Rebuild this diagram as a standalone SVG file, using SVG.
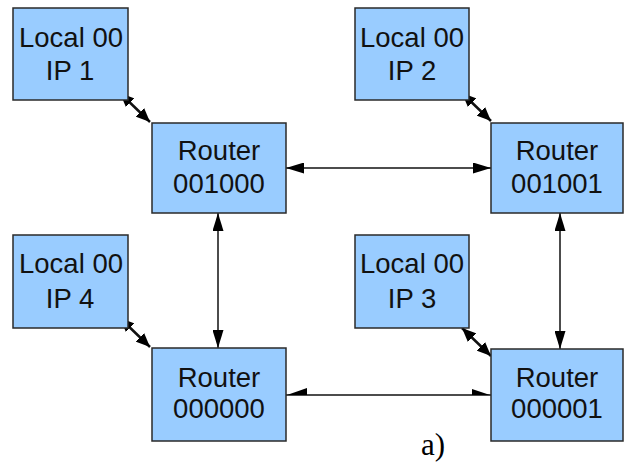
<svg xmlns="http://www.w3.org/2000/svg" width="626" height="462" viewBox="0 0 626 462">
  <defs>
    <style>
      .box { fill: #99ccff; stroke: #2a2a2a; stroke-width: 1.5; }
      .lbl { font-family: "Liberation Sans", Arial, sans-serif; font-size: 27.5px; fill: #111; text-anchor: middle; }
      .con { stroke: #111; stroke-width: 1.5; fill: none; }
      .dia { stroke: #111; stroke-width: 2.5; fill: none; }
      .cap { font-family: "Liberation Serif", "Times New Roman", serif; font-size: 31px; fill: #000; }
    </style>
    <marker id="ah" markerUnits="userSpaceOnUse" markerWidth="18" markerHeight="11" refX="18" refY="5.5" orient="auto-start-reverse">
      <path d="M0,0 L18,5.5 L0,11 z" fill="#000"/>
    </marker>
    <marker id="as" markerUnits="userSpaceOnUse" markerWidth="14" markerHeight="12" refX="14" refY="6" orient="auto-start-reverse">
      <path d="M0,0 L14,6 L0,12 z" fill="#000"/>
    </marker>
  </defs>
  <rect width="626" height="462" fill="#fff"/>

  <g id="connectors">
    <line class="con" x1="286" y1="168" x2="491" y2="168" marker-start="url(#ah)" marker-end="url(#ah)"/>
    <line class="con" x1="218" y1="213" x2="218" y2="348" marker-start="url(#ah)" marker-end="url(#ah)"/>
    <line class="con" x1="560" y1="213" x2="560" y2="349" marker-start="url(#ah)" marker-end="url(#ah)"/>
    <line class="con" x1="286" y1="395" x2="491" y2="395"/>
    <path d="M287,395 L307,388 L307,395 z" fill="#000"/>
    <path d="M490,395 L472,389 L472,395 z" fill="#000"/>
    <line class="dia" x1="120" y1="93" x2="150" y2="122" marker-start="url(#as)" marker-end="url(#as)"/>
    <line class="dia" x1="462" y1="93" x2="491" y2="121" marker-start="url(#as)" marker-end="url(#as)"/>
    <line class="dia" x1="120" y1="318" x2="150" y2="347" marker-start="url(#as)" marker-end="url(#as)"/>
    <line class="dia" x1="462" y1="328" x2="491" y2="356" marker-start="url(#as)" marker-end="url(#as)"/>
  </g>

  <g id="local1">
    <rect class="box" x="13" y="8" width="115" height="92"/>
    <text class="lbl" x="71" y="47">Local 00</text>
    <text class="lbl" x="70" y="80">IP 1</text>
  </g>
  <g id="local2">
    <rect class="box" x="355" y="8" width="114" height="92"/>
    <text class="lbl" x="412" y="47">Local 00</text>
    <text class="lbl" x="412" y="80">IP 2</text>
  </g>
  <g id="local4">
    <rect class="box" x="13" y="235" width="115" height="93"/>
    <text class="lbl" x="71" y="273">Local 00</text>
    <text class="lbl" x="70" y="308">IP 4</text>
  </g>
  <g id="local3">
    <rect class="box" x="355" y="235" width="114" height="93"/>
    <text class="lbl" x="412" y="273">Local 00</text>
    <text class="lbl" x="412" y="308">IP 3</text>
  </g>
  <g id="router001000">
    <rect class="box" x="152" y="123" width="134" height="90"/>
    <text class="lbl" x="219" y="160">Router</text>
    <text class="lbl" x="219" y="193">001000</text>
  </g>
  <g id="router001001">
    <rect class="box" x="491" y="123" width="132" height="90"/>
    <text class="lbl" x="557" y="160">Router</text>
    <text class="lbl" x="557" y="193">001001</text>
  </g>
  <g id="router000000">
    <rect class="box" x="152" y="348" width="134" height="93"/>
    <text class="lbl" x="219" y="387">Router</text>
    <text class="lbl" x="219" y="418">000000</text>
  </g>
  <g id="router000001">
    <rect class="box" x="491" y="349" width="132" height="92"/>
    <text class="lbl" x="557" y="387">Router</text>
    <text class="lbl" x="557" y="418">000001</text>
  </g>

  <text class="cap" x="421" y="455">a)</text>
</svg>
